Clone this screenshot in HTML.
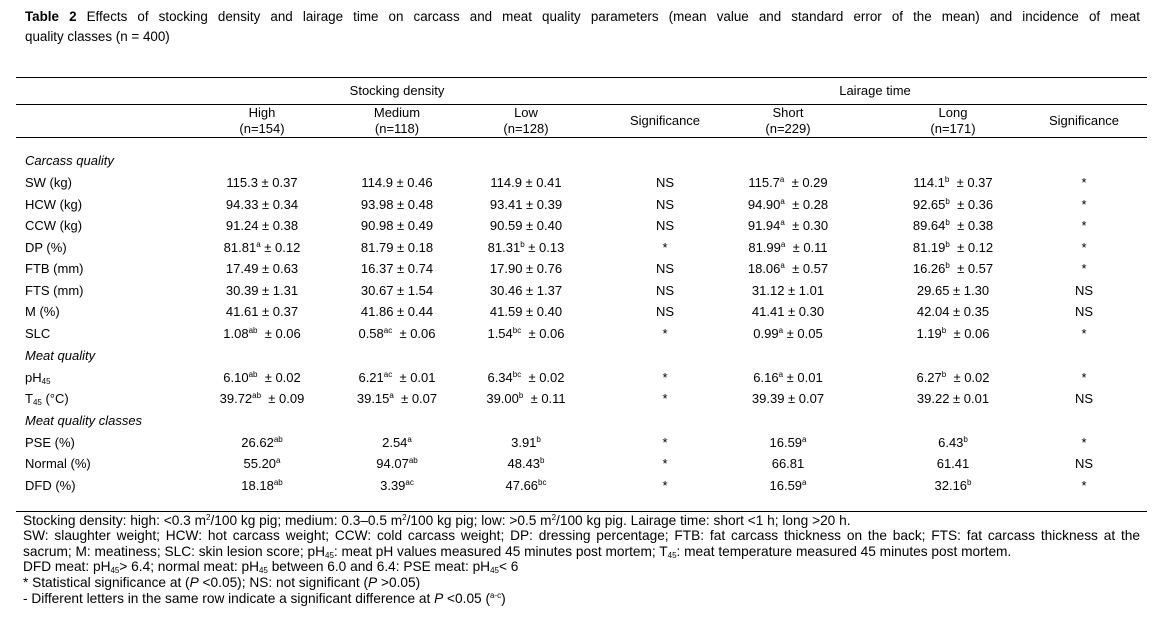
<!DOCTYPE html>
<html><head><meta charset="utf-8"><style>
body{margin:0;width:1162px;height:623px;background:#fff;font-family:"Liberation Sans",Arial,sans-serif;color:#000;position:relative;overflow:hidden}
.a{position:absolute;white-space:nowrap}
.t{font-size:13.3px;line-height:15px}
.r{position:absolute;left:0;width:1162px;height:16px;font-size:13px;line-height:16px}
.r span{position:absolute;width:200px;margin-left:-100px;text-align:center}
.r span.l{left:25px;margin-left:0;text-align:left}
.r i.l{position:absolute;left:25px}
sup{font-size:8px;line-height:0;vertical-align:5px}
sub{font-size:8px;line-height:0;vertical-align:-2px}
.hl{position:absolute;left:16px;width:1131px;height:1px;background:#000}
.f{position:absolute;left:23px;width:1117px;font-size:13.7px;line-height:15.6px;white-space:nowrap}
.j{text-align:justify;text-align-last:justify;white-space:normal}
</style></head><body>
<div class="a t" style="left:25px;top:9px;width:1115px;text-align:justify;text-align-last:justify;white-space:normal;font-size:13.4px"><b>Table 2</b> Effects of stocking density and lairage time on carcass and meat quality parameters (mean value and standard error of the mean) and incidence of meat</div>
<div class="a t" style="left:25px;top:29px;font-size:13.4px">quality classes (n = 400)</div>
<div class="hl" style="top:77px"></div>
<div class="hl" style="top:104px"></div>
<div class="hl" style="top:137px"></div>
<div class="hl" style="top:511px"></div>
<div class="r" style="top:83px"><span style="left:397px">Stocking density</span><span style="left:875px">Lairage time</span></div>
<div class="r" style="top:105px"><span style="left:262px">High</span><span style="left:397px">Medium</span><span style="left:526px">Low</span><span style="left:788px">Short</span><span style="left:953px">Long</span></div>
<div class="r" style="top:121px"><span style="left:262px">(n=154)</span><span style="left:397px">(n=118)</span><span style="left:526px">(n=128)</span><span style="left:788px">(n=229)</span><span style="left:953px">(n=171)</span></div>
<div class="r" style="top:113px"><span style="left:665px">Significance</span><span style="left:1084px">Significance</span></div>

<div class="r" style="top:153px"><i class="l">Carcass quality</i></div>
<div class="r" style="top:175px"><span class="l">SW (kg)</span><span style="left:262px">115.3 ± 0.37</span><span style="left:397px">114.9 ± 0.46</span><span style="left:526px">114.9 ± 0.41</span><span style="left:665px">NS</span><span style="left:788px">115.7<sup>a</sup> &nbsp;± 0.29</span><span style="left:953px">114.1<sup>b</sup> &nbsp;± 0.37</span><span style="left:1084px">*</span></div>
<div class="r" style="top:197px"><span class="l">HCW (kg)</span><span style="left:262px">94.33 ± 0.34</span><span style="left:397px">93.98 ± 0.48</span><span style="left:526px">93.41 ± 0.39</span><span style="left:665px">NS</span><span style="left:788px">94.90<sup>a</sup> &nbsp;± 0.28</span><span style="left:953px">92.65<sup>b</sup> &nbsp;± 0.36</span><span style="left:1084px">*</span></div>
<div class="r" style="top:218px"><span class="l">CCW (kg)</span><span style="left:262px">91.24 ± 0.38</span><span style="left:397px">90.98 ± 0.49</span><span style="left:526px">90.59 ± 0.40</span><span style="left:665px">NS</span><span style="left:788px">91.94<sup>a</sup> &nbsp;± 0.30</span><span style="left:953px">89.64<sup>b</sup> &nbsp;± 0.38</span><span style="left:1084px">*</span></div>
<div class="r" style="top:240px"><span class="l">DP (%)</span><span style="left:262px">81.81<sup>a</sup> ± 0.12</span><span style="left:397px">81.79 ± 0.18</span><span style="left:526px">81.31<sup>b</sup> ± 0.13</span><span style="left:665px">*</span><span style="left:788px">81.99<sup>a</sup> &nbsp;± 0.11</span><span style="left:953px">81.19<sup>b</sup> &nbsp;± 0.12</span><span style="left:1084px">*</span></div>
<div class="r" style="top:261px"><span class="l">FTB (mm)</span><span style="left:262px">17.49 ± 0.63</span><span style="left:397px">16.37 ± 0.74</span><span style="left:526px">17.90 ± 0.76</span><span style="left:665px">NS</span><span style="left:788px">18.06<sup>a</sup> &nbsp;± 0.57</span><span style="left:953px">16.26<sup>b</sup> &nbsp;± 0.57</span><span style="left:1084px">*</span></div>
<div class="r" style="top:283px"><span class="l">FTS (mm)</span><span style="left:262px">30.39 ± 1.31</span><span style="left:397px">30.67 ± 1.54</span><span style="left:526px">30.46 ± 1.37</span><span style="left:665px">NS</span><span style="left:788px">31.12 ± 1.01</span><span style="left:953px">29.65 ± 1.30</span><span style="left:1084px">NS</span></div>
<div class="r" style="top:304px"><span class="l">M (%)</span><span style="left:262px">41.61 ± 0.37</span><span style="left:397px">41.86 ± 0.44</span><span style="left:526px">41.59 ± 0.40</span><span style="left:665px">NS</span><span style="left:788px">41.41 ± 0.30</span><span style="left:953px">42.04 ± 0.35</span><span style="left:1084px">NS</span></div>
<div class="r" style="top:326px"><span class="l">SLC</span><span style="left:262px">1.08<sup>ab</sup> &nbsp;± 0.06</span><span style="left:397px">0.58<sup>ac</sup> &nbsp;± 0.06</span><span style="left:526px">1.54<sup>bc</sup> &nbsp;± 0.06</span><span style="left:665px">*</span><span style="left:788px">0.99<sup>a</sup> ± 0.05</span><span style="left:953px">1.19<sup>b</sup> &nbsp;± 0.06</span><span style="left:1084px">*</span></div>
<div class="r" style="top:348px"><i class="l">Meat quality</i></div>
<div class="r" style="top:370px"><span class="l">pH<sub>45</sub></span><span style="left:262px">6.10<sup>ab</sup> &nbsp;± 0.02</span><span style="left:397px">6.21<sup>ac</sup> &nbsp;± 0.01</span><span style="left:526px">6.34<sup>bc</sup> &nbsp;± 0.02</span><span style="left:665px">*</span><span style="left:788px">6.16<sup>a</sup> ± 0.01</span><span style="left:953px">6.27<sup>b</sup> &nbsp;± 0.02</span><span style="left:1084px">*</span></div>
<div class="r" style="top:391px"><span class="l">T<sub>45</sub> (°C)</span><span style="left:262px">39.72<sup>ab</sup> &nbsp;± 0.09</span><span style="left:397px">39.15<sup>a</sup> &nbsp;± 0.07</span><span style="left:526px">39.00<sup>b</sup> &nbsp;± 0.11</span><span style="left:665px">*</span><span style="left:788px">39.39 ± 0.07</span><span style="left:953px">39.22 ± 0.01</span><span style="left:1084px">NS</span></div>
<div class="r" style="top:413px"><i class="l">Meat quality classes</i></div>
<div class="r" style="top:435px"><span class="l">PSE (%)</span><span style="left:262px">26.62<sup>ab</sup></span><span style="left:397px">2.54<sup>a</sup></span><span style="left:526px">3.91<sup>b</sup></span><span style="left:665px">*</span><span style="left:788px">16.59<sup>a</sup></span><span style="left:953px">6.43<sup>b</sup></span><span style="left:1084px">*</span></div>
<div class="r" style="top:456px"><span class="l">Normal (%)</span><span style="left:262px">55.20<sup>a</sup></span><span style="left:397px">94.07<sup>ab</sup></span><span style="left:526px">48.43<sup>b</sup></span><span style="left:665px">*</span><span style="left:788px">66.81</span><span style="left:953px">61.41</span><span style="left:1084px">NS</span></div>
<div class="r" style="top:478px"><span class="l">DFD (%)</span><span style="left:262px">18.18<sup>ab</sup></span><span style="left:397px">3.39<sup>ac</sup></span><span style="left:526px">47.66<sup>bc</sup></span><span style="left:665px">*</span><span style="left:788px">16.59<sup>a</sup></span><span style="left:953px">32.16<sup>b</sup></span><span style="left:1084px">*</span></div>

<div class="f" style="top:513px">Stocking density: high: &lt;0.3 m<sup>2</sup>/100 kg pig; medium: 0.3–0.5 m<sup>2</sup>/100 kg pig; low: &gt;0.5 m<sup>2</sup>/100 kg pig. Lairage time: short &lt;1 h; long &gt;20 h.</div>
<div class="f j" style="top:528px">SW: slaughter weight; HCW: hot carcass weight; CCW: cold carcass weight; DP: dressing percentage; FTB: fat carcass thickness on the back; FTS: fat carcass thickness at the</div>
<div class="f" style="top:544px">sacrum; M: meatiness; SLC: skin lesion score; pH<sub>45</sub>: meat pH values measured 45 minutes post mortem; T<sub>45</sub>: meat temperature measured 45 minutes post mortem.</div>
<div class="f" style="top:559px">DFD meat: pH<sub>45</sub>&gt; 6.4; normal meat: pH<sub>45</sub> between 6.0 and 6.4: PSE meat: pH<sub>45</sub>&lt; 6</div>
<div class="f" style="top:575px">* Statistical significance at (<i>P</i> &lt;0.05); NS: not significant (<i>P</i> &gt;0.05)</div>
<div class="f" style="top:591px">- Different letters in the same row indicate a significant difference at <i>P</i> &lt;0.05 (<sup>a-c</sup>)</div>
</body></html>
